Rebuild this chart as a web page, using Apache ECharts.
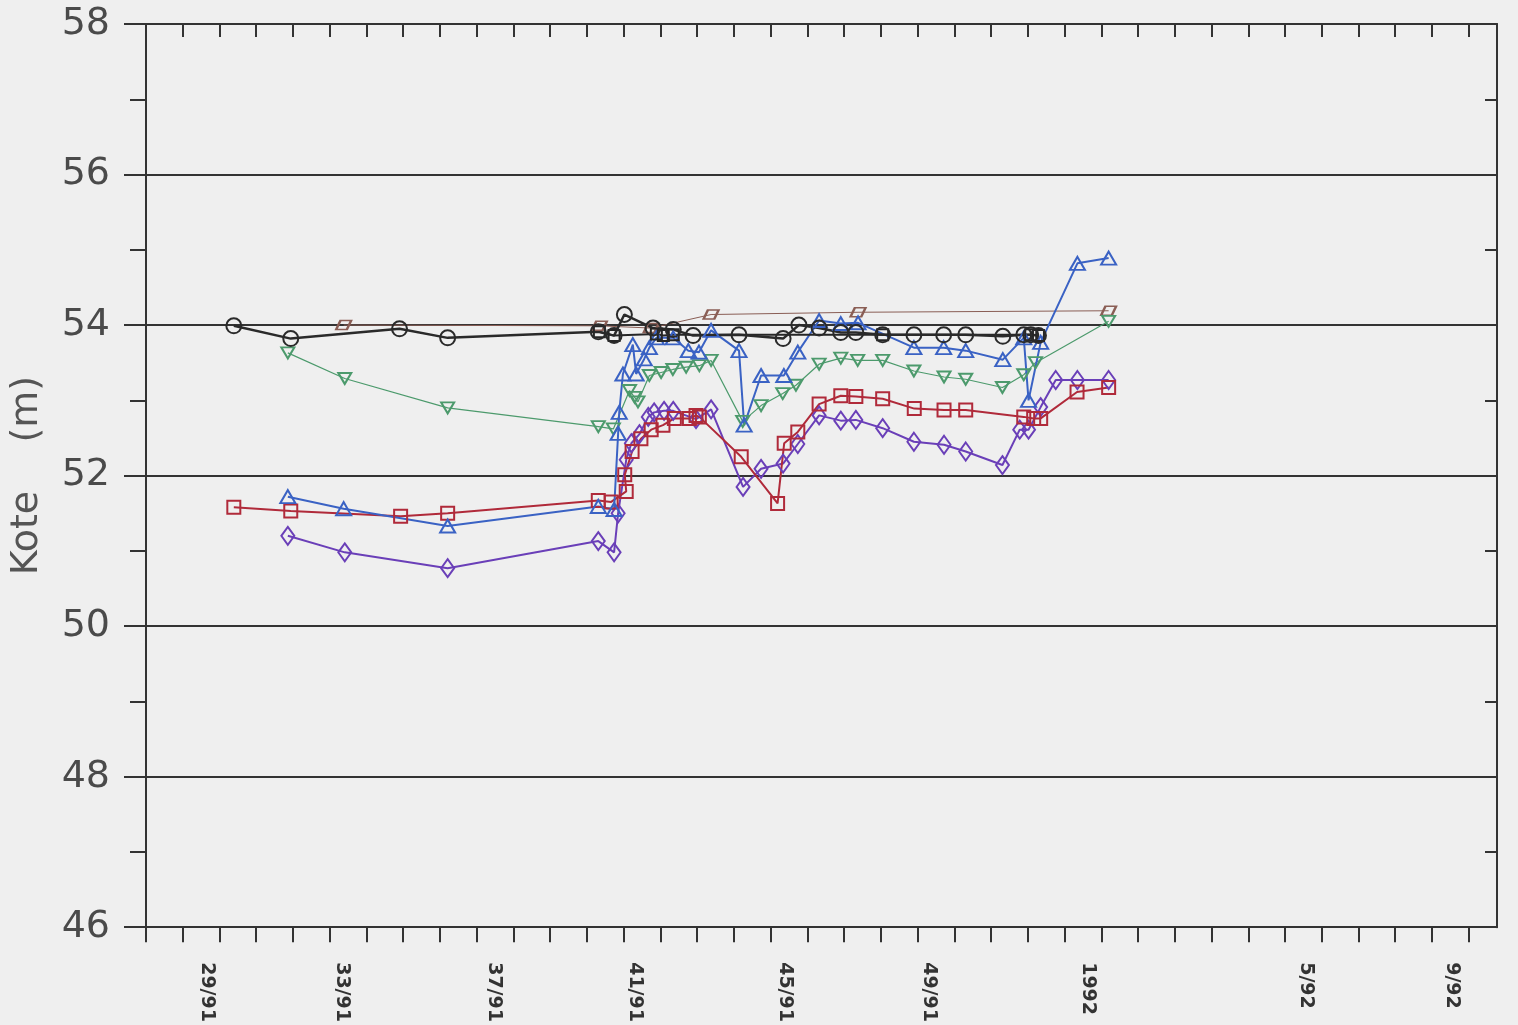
<!DOCTYPE html>
<html><head><meta charset="utf-8">
<script src="https://cdn.jsdelivr.net/npm/echarts@6/dist/echarts.min.js"></script>
<style>html,body{margin:0;padding:0;background:#efefef;}#c{width:1518px;height:1025px;}</style>
</head><body><div id="c"></div>
<script>
// x = week number (1991 weeks continued into 1992), y = Kote (m)
const xTickLabels = ['29/91','33/91','37/91','41/91','45/91','49/91','1992','5/92','9/92'];
const xTickLabelPos = [29.16,32.83,36.96,40.82,44.89,48.80,53.13,59.08,63.04];
const yTicks = [46,48,50,52,54,56,58];

const blackCircles = [[29.89,53.99],[31.44,53.82],[34.40,53.95],[35.71,53.83],[39.81,53.91],[40.24,53.86],[40.52,54.14],[41.30,53.96],[41.85,53.94],[42.39,53.86],[43.64,53.87],[44.84,53.82],[45.27,54.00],[45.82,53.96],[46.41,53.90],[46.82,53.90],[47.55,53.87],[48.40,53.87],[49.21,53.87],[49.81,53.87],[50.82,53.85],[51.39,53.87],[51.58,53.87],[51.79,53.86]];
const blackSquares = [[39.84,53.91],[40.24,53.86],[41.39,53.88],[41.58,53.86],[41.85,53.87],[47.55,53.87],[51.58,53.87],[51.79,53.86]];
const brownRhombs = [[32.88,54.00],[39.84,53.99],[41.25,53.96],[42.88,54.14],[46.88,54.17],[53.70,54.19]];
const blueTriangles = [[31.36,51.72],[32.88,51.56],[35.71,51.33],[39.81,51.59],[40.24,51.55],[40.35,52.56],[40.38,52.84],[40.48,53.35],[40.75,53.74],[40.84,53.35],[41.06,53.55],[41.20,53.70],[41.39,53.83],[41.85,53.83],[42.26,53.66],[42.55,53.64],[42.88,53.93],[43.64,53.66],[43.78,52.67],[44.24,53.33],[44.86,53.33],[45.24,53.64],[45.82,54.06],[46.41,54.02],[46.88,54.03],[48.40,53.70],[49.21,53.70],[49.81,53.66],[50.82,53.54],[51.39,53.83],[51.52,53.00],[51.85,53.77],[52.85,54.82],[53.70,54.89]];
const greenTriangles = [[31.36,53.63],[32.91,53.29],[35.71,52.90],[39.81,52.65],[40.22,52.62],[40.66,53.13],[40.80,53.04],[40.89,52.98],[41.20,53.33],[41.52,53.37],[41.84,53.41],[42.20,53.44],[42.56,53.46],[42.88,53.53],[43.74,52.72],[44.24,52.93],[44.83,53.09],[45.19,53.20],[45.82,53.48],[46.41,53.56],[46.87,53.53],[47.55,53.53],[48.40,53.39],[49.22,53.31],[49.81,53.28],[50.81,53.17],[51.39,53.34],[51.71,53.50],[53.70,54.05]];
const redSquares = [[29.89,51.58],[31.44,51.53],[34.43,51.46],[35.71,51.50],[39.81,51.67],[40.16,51.65],[40.57,51.79],[40.53,52.01],[40.73,52.32],[40.97,52.49],[41.25,52.61],[41.57,52.67],[41.88,52.76],[42.29,52.76],[42.47,52.80],[42.56,52.78],[43.70,52.25],[44.69,51.63],[44.87,52.43],[45.24,52.58],[45.82,52.95],[46.41,53.06],[46.82,53.05],[47.55,53.02],[48.41,52.89],[49.22,52.87],[49.81,52.87],[51.39,52.78],[51.66,52.76],[51.85,52.76],[52.84,53.11],[53.70,53.17]];
const purpleDiamonds = [[31.36,51.20],[32.91,50.98],[35.71,50.77],[39.81,51.13],[40.24,50.98],[40.35,51.50],[40.57,52.21],[40.71,52.43],[40.93,52.55],[41.17,52.78],[41.33,52.84],[41.60,52.86],[41.85,52.86],[42.47,52.75],[42.88,52.88],[43.75,51.85],[44.24,52.09],[44.84,52.16],[45.24,52.42],[45.82,52.80],[46.41,52.73],[46.82,52.74],[47.55,52.63],[48.40,52.45],[49.22,52.41],[49.81,52.32],[50.81,52.14],[51.28,52.61],[51.52,52.61],[51.85,52.91],[52.26,53.27],[52.85,53.27],[53.70,53.27]];

const X_MIN = 27.5, X_MAX = 64.27;
const weekTicks = [];
for (let w = X_MIN; w < X_MAX; w += 1) weekTicks.push(w);

const AX = '#333333';
function mk(name, data, color, symbol, size, lw, extra) {
  return Object.assign({
    name, type: 'line', data, symbol, symbolSize: size,
    lineStyle: { color, width: lw },
    itemStyle: { color: 'rgba(0,0,0,0)', borderColor: color, borderWidth: 2 },
    emphasis: { disabled: true }, silent: true, animation: false
  }, extra || {});
}

const chart = echarts.init(document.getElementById('c'), null, { renderer: 'canvas' });
chart.setOption({
  backgroundColor: '#efefef',
  animation: false,
  grid: { left: 144, right: 21, top: 24, bottom: 92, containLabel: false },
  xAxis: [{
    type: 'value', position: 'bottom', min: X_MIN, max: X_MAX,
    axisLine: { show: true, lineStyle: { color: AX, width: 2 } },
    axisTick: { show: true, customValues: weekTicks, length: 15, lineStyle: { color: AX, width: 2 } },
    axisLabel: {
      show: true, customValues: xTickLabelPos, rotate: -90, margin: 35,
      fontSize: 19, fontWeight: 'bold', color: '#333', fontFamily: 'DejaVu Sans',
      formatter: v => { const i = xTickLabelPos.findIndex(p => Math.abs(p - v) < 1e-6); return i >= 0 ? xTickLabels[i] : ''; }
    },
    splitLine: { show: false }
  }, {
    type: 'value', position: 'top', min: X_MIN, max: X_MAX,
    axisLine: { show: true, lineStyle: { color: AX, width: 2 } },
    axisTick: { show: true, inside: true, customValues: weekTicks, length: 13, lineStyle: { color: AX, width: 2 } },
    axisLabel: { show: false }, splitLine: { show: false }
  }],
  yAxis: [{
    type: 'value', position: 'left', min: 46, max: 58, interval: 2,
    axisLine: { show: true, lineStyle: { color: AX, width: 2 } },
    axisTick: { show: true, length: 22, lineStyle: { color: AX, width: 2 } },
    minorTick: { show: true, splitNumber: 2, length: 16, lineStyle: { color: AX, width: 2 } },
    axisLabel: { fontSize: 38, color: '#4a4a4a', margin: 36, fontFamily: 'DejaVu Sans' },
    splitLine: { show: true, lineStyle: { color: AX, width: 2 } },
    name: 'Kote    (m)', nameLocation: 'middle', nameRotate: 90, nameGap: 100,
    nameTextStyle: { fontSize: 38, color: '#555', fontFamily: 'DejaVu Sans' }
  }, {
    type: 'value', position: 'right', min: 46, max: 58, interval: 2,
    axisLine: { show: true, lineStyle: { color: AX, width: 2 } },
    axisTick: { show: true, inside: true, length: 12, lineStyle: { color: AX, width: 2 } },
    minorTick: { show: true, splitNumber: 2, length: 12, lineStyle: { color: AX, width: 2 } },
    axisLabel: { show: false }, splitLine: { show: false }
  }],
  series: [
    mk('brown', brownRhombs, '#8a5e55', 'path://M4,0 L14,0 L10,7 L0,7 Z', [15, 9], 1),
    mk('green', greenTriangles, '#4c9a6c', 'triangle', [13, 11], 1.2, { symbolRotate: 180 }),
    mk('purple', purpleDiamonds, '#6a3fb8', 'diamond', [13, 18], 2),
    mk('red', redSquares, '#b02a3a', 'rect', [13, 13], 2),
    mk('blue', blueTriangles, '#3a62c4', 'triangle', [15, 13], 2),
    mk('blackSq', blackSquares, '#262626', 'rect', [11, 11], 2),
    mk('black', blackCircles, '#2a2a2a', 'circle', [15, 15], 2.5)
  ]
});
</script></body></html>
